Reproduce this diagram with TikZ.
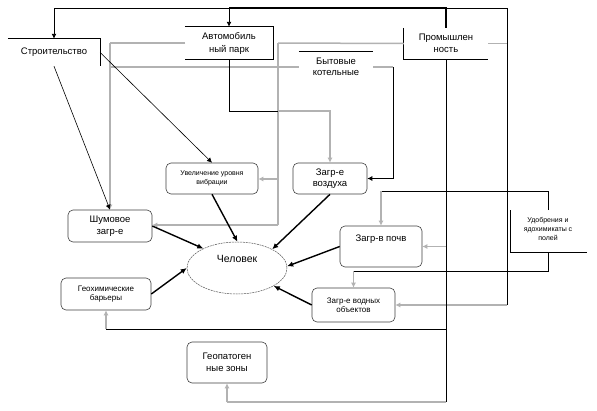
\documentclass[tikz,border=0pt]{standalone}
\usepackage{fontspec}
\setmainfont{Liberation Sans}
\usetikzlibrary{shapes.geometric,arrows.meta}
\definecolor{graylines}{RGB}{178,178,178}
\begin{document}
\begin{tikzpicture}[x=1pt,y=-1pt,
  ln/.style={draw=black,line width=0.9pt},
  gl/.style={draw=graylines,line width=1.5pt},
  arr/.style={-{Latex[length=5pt,width=5pt]}},
  thk/.style={draw=black,line width=1.4pt,-{Latex[length=6pt,width=5.5pt]}},
  rbox/.style={draw=black!75,line width=0.6pt,rounded corners=5pt,fill=white,align=center,inner sep=1pt},
  pbox/.style={inner sep=0pt,align=center},
  big/.style={font=\fontsize{9.5}{11.5}\selectfont},
  mid/.style={font=\fontsize{8}{9.5}\selectfont},
  sml/.style={font=\fontsize{7}{9}\selectfont},
]
\useasboundingbox (0,0) rectangle (597,410);
\fill[white] (0,0) rectangle (597,410);

% ---- partial boxes (sources)
\node[pbox,big,minimum width=92pt,minimum height=27pt] (str) at (54,52.5) {Строительство};
\node[pbox,big,minimum width=88pt,minimum height=32pt,fill=white] (avto) at (229,43) {Автомобиль\\[1.5pt]ный парк};
\node[pbox,big,minimum width=84pt,minimum height=31pt] (prom) at (446,43.5) {Промышлен\\ность};
\node[pbox,big,minimum width=74pt,minimum height=30pt] (byt) at (336,67) {Бытовые\\котельные};
\node[pbox,sml,minimum width=77pt,minimum height=42pt] (ud) at (548,229) {Удобрения и\\ядохимикаты с\\полей};

\draw[ln] (str.north west) -- (str.north east) -- (str.south east);
\draw[ln] (avto.north west) -- (avto.north east) -- (avto.south east) -- (avto.south west);
\draw[ln] (prom.north west) -- (prom.south west) -- (prom.south east);
\draw[ln] (byt.north west) -- (byt.north east);
\draw[ln] (510,210) -- (510,252) -- (587,252);

% ---- rounded boxes
\node[rbox,big,minimum width=84pt,minimum height=32pt] (shum) at (110,226) {Шумовое\\загр-е};
\node[rbox,sml,minimum width=92pt,minimum height=31pt] (vib) at (212,178.5) {Увеличение уровня\\вибрации};
\node[rbox,big,minimum width=74pt,minimum height=31pt] (vozd) at (330,178.5) {Загр-е\\воздуха};
\node[rbox,big,minimum width=82pt,minimum height=41pt] (pochv) at (381,246.5) {Загр-в почв\\[6pt]~};
\node[rbox,mid,minimum width=83pt,minimum height=34pt] (vodn) at (353.5,305) {Загр-е водных\\объектов};
\node[rbox,mid,minimum width=90pt,minimum height=32pt] (geox) at (106,294) {Геохимические\\барьеры};
\node[rbox,big,minimum width=80pt,minimum height=41pt] (geop) at (227,362.5) {Геопатоген\\ные зоны};
\node[ellipse,draw=black!65,line width=0.5pt,dash pattern=on 2pt off 0.8pt,minimum width=100pt,minimum height=52pt,inner sep=0pt] (chel) at (237,268) {};
\node[font=\fontsize{10.5}{12}\selectfont] (chelt) at (237,259) {Человек};

% ---- coordinates
\coordinate (t1) at (446,8);
\coordinate (t2) at (507,8);
\coordinate (r1) at (507,305);
\coordinate (g1) at (110,43);
\coordinate (g2) at (278,43);
\coordinate (g3) at (278,225);
\coordinate (g4) at (278,179);
\coordinate (b1) at (110,67);
\coordinate (b2) at (393,67);
\coordinate (a1) at (229,111);
\coordinate (a2) at (278,111);
\coordinate (a3) at (330,111);
\coordinate (p1) at (446,402);
\coordinate (p2) at (446,246.5);
\coordinate (p3) at (446,329);
\coordinate (p4) at (106,329);
\coordinate (p5) at (227,402);
\coordinate (u1) at (548,191);
\coordinate (u2) at (381,191);
\coordinate (u3) at (548,271);
\coordinate (u4) at (353.5,271);

% ---- gray network
\draw[gl] (185,43) -- (g1);
\draw[gl] (g2) -- (prom.west);
\draw[gl] (b1) -- (byt.west |- b1);
\draw[gl] (byt.east |- b2) -- (b2);
\draw[gl,arr] (g1) -- (shum.north);
\draw[gl] (g2) -- (g3);
\draw[gl,arr] (g3) -- (shum.east |- g3);
\draw[gl,arr] (g4) -- (vib.east |- g4);
\draw[gl] (prom.east) -- (507,43.5);

% ---- top black network
\draw[ln,line width=1.2pt] (prom.north) -- (t1) -- (avto.north |- t1);
\draw[ln,arr] (avto.north |- t1) -- (avto.north);
\draw[ln,arr] (avto.north |- t1) -| (str.north);
\draw[ln] (t1) -- (t2) -- (r1);
\draw[gl,arr] (r1) -- (vodn.east);

% Automobile
\draw[ln] (avto.south) -- (a1) -- (a2);
\draw[gl,arr] (a2) -- (a3) -- (vozd.north);
% Bytovye
\draw[ln] (b2) -- (vozd.east -| b2);
\draw[ln,arr] (vozd.east -| b2) -- (vozd.east);

% Stroitelstvo
\draw[black,line width=0.6pt,arr] (str.east) -- (vib.north);
\draw[black,line width=0.6pt,arr] (str.south) -- (shum.north);

% Promyshlennost vertical
\draw[ln] (prom.south) -- (p1);
\draw[gl,arr] (p2) -- (pochv.east);
\draw[ln] (p3) -- (p4);
\draw[gl,arr] (p4) -- (geox.south);
\draw[gl] (p1) -- (p5);
\draw[gl,arr] (p5) -- (geop.south);

% Udobreniya
\draw[ln] (ud.north |- 0,210) -- (u1) -- (u2);
\draw[gl,arr] (u2) -- (pochv.north);
\draw[ln] (ud.south |- 0,252) -- (u3) -- (u4);
\draw[gl,arr] (u4) -- (vodn.north);

% ---- arrows to human
\draw[thk] (shum.east) -- (chel.150);
\draw[thk] (vib.south) -- (chel.89);
\draw[thk] (vozd.south) -- (chel.28);
\draw[thk] (pochv.west) -- (chel.2);
\draw[thk] (vodn.west) -- (chel.-26);
\draw[thk] (geox.east) -- (chel.180);
\end{tikzpicture}
\end{document}
